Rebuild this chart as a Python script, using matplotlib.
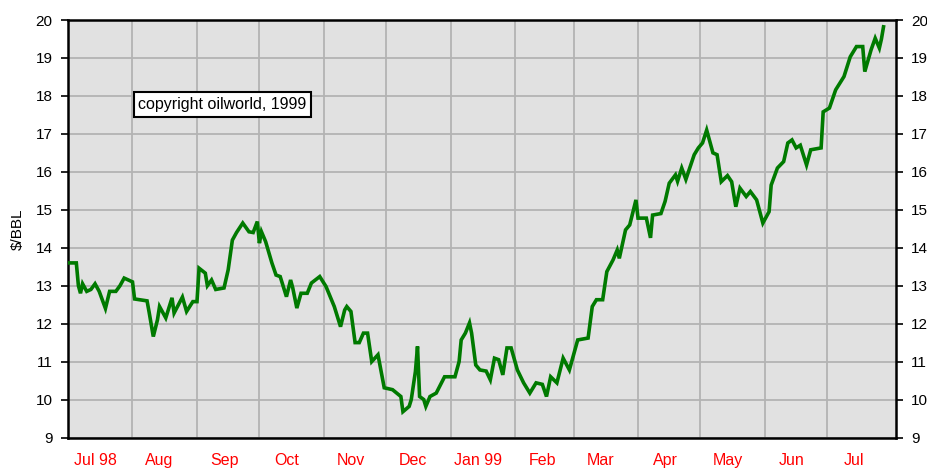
import matplotlib
matplotlib.use('Agg')
import matplotlib.pyplot as plt

plt.rcParams['font.family'] = ['Liberation Sans', 'DejaVu Sans']

# days counted from 1 Jul 1998, price in $/BBL
days = [0, 4, 5, 6, 7, 9, 11, 13, 15, 18, 20, 23, 25, 27, 31, 32, 38, 39, 41, 43,
        44, 47, 50, 51, 55, 57, 60, 62, 63, 66, 67, 69, 71, 75, 77, 79, 81, 84,
        87, 89, 91, 92, 93, 95, 98, 100, 102, 105, 107, 108, 110, 112, 115, 117,
        121, 124, 128, 131, 133, 134, 136, 138, 140, 142, 144, 146, 149, 152, 156,
        160, 161, 164, 165, 167, 168, 169, 171, 172, 174, 177, 181, 186, 188, 189,
        191, 193, 194, 196, 198, 201, 203, 205, 207, 209, 211, 213, 216, 219, 222,
        225, 228, 230, 232, 235, 238, 241, 245, 250, 252, 254, 257, 259, 262, 264,
        265, 268, 270, 273, 274, 278, 280, 281, 285, 287, 289, 292, 293, 295, 297,
        301, 303, 305, 307, 310, 312, 314, 317, 319, 321, 323, 326, 328, 331, 334,
        337, 338, 341, 344, 346, 348, 350, 352, 355, 357, 362, 363, 366, 369, 373,
        376, 379, 382, 383, 386, 388, 390, 391, 392]
price = [13.60, 13.60, 13.00, 12.80, 13.05, 12.85, 12.90, 13.05, 12.85, 12.40,
         12.85, 12.85, 13.00, 13.20, 13.10, 12.65, 12.60, 12.30, 11.66, 12.10,
         12.45, 12.15, 12.68, 12.28, 12.70, 12.32, 12.58, 12.58, 13.46, 13.33,
         13.00, 13.15, 12.90, 12.94, 13.42, 14.20, 14.40, 14.65, 14.42, 14.40,
         14.69, 14.12, 14.42, 14.16, 13.60, 13.28, 13.24, 12.71, 13.15, 12.95,
         12.41, 12.80, 12.80, 13.07, 13.24, 12.98, 12.45, 11.92, 12.36, 12.45,
         12.32, 11.50, 11.50, 11.75, 11.75, 11.00, 11.18, 10.31, 10.26, 10.08,
         9.68, 9.82, 10.00, 10.74, 11.40, 10.08, 10.00, 9.82, 10.08, 10.17,
         10.60, 10.60, 11.00, 11.57, 11.75, 12.02, 11.75, 10.91, 10.78, 10.75,
         10.52, 11.09, 11.05, 10.65, 11.36, 11.36, 10.78, 10.44, 10.17, 10.44,
         10.40, 10.08, 10.60, 10.44, 11.09, 10.78, 11.57, 11.62, 12.45, 12.63,
         12.63, 13.37, 13.68, 13.94, 13.72, 14.47, 14.60, 15.26, 14.78, 14.78,
         14.26, 14.86, 14.90, 15.22, 15.70, 15.92, 15.75, 16.10, 15.80, 16.45,
         16.63, 16.76, 17.10, 16.50, 16.45, 15.74, 15.90, 15.74, 15.08, 15.57,
         15.35, 15.48, 15.26, 14.65, 14.95, 15.65, 16.10, 16.27, 16.76, 16.84,
         16.63, 16.70, 16.18, 16.58, 16.63, 17.58, 17.68, 18.16, 18.51, 19.03,
         19.30, 19.30, 18.64, 19.21, 19.52, 19.26, 19.50, 19.82]

month_starts = [0, 31, 62, 92, 123, 153, 184, 215, 243, 274, 304, 335, 365]
month_labels = ['Jul 98', 'Aug', 'Sep', 'Oct', 'Nov', 'Dec', 'Jan 99', 'Feb',
                'Mar', 'Apr', 'May', 'Jun', 'Jul']


def main():
    fig = plt.figure(figsize=(9.28, 4.68), dpi=100)
    ax = fig.add_axes([68 / 928, 1 - 437.5 / 468, 828 / 928, 417.5 / 468])

    ax.set_facecolor('#e1e1e1')
    ax.plot(days, price, color='#007a00', lw=2.6, solid_joinstyle='miter',
            zorder=3)

    ax.set_xlim(0, 398)
    ax.set_ylim(9, 20)
    ax.set_yticks(range(9, 21))

    # month boundaries as grid lines, labels set mid-month
    ax.set_xticks(month_starts[1:])
    ax.set_xticklabels([])
    ax.set_xticks([m + 13 for m in month_starts], minor=True)
    ax.set_xticklabels(month_labels, minor=True, color='#ff0000', fontsize=11.5)
    ax.tick_params(axis='x', which='major', length=0, top=True, bottom=False)
    ax.tick_params(axis='x', which='minor', length=0, pad=11)
    ax.tick_params(axis='y', which='major', length=5, width=1.2, labelsize=11,
                   right=True, labelright=True, direction='out', pad=6)

    ax.grid(True, which='major', color='#b3b3b3', lw=1.3)
    for s in ax.spines.values():
        s.set_color('black')
        s.set_linewidth(1.8)

    ax.set_ylabel('$/BBL', fontsize=11, labelpad=8)

    ax.text(0.085, 0.797, 'copyright oilworld, 1999', transform=ax.transAxes,
            fontsize=11.5, va='center', ha='left', zorder=4,
            bbox=dict(boxstyle='square,pad=0.3', fc='white', ec='black', lw=1.5))

    fig.savefig('out.png', dpi=100)


if __name__ == '__main__':
    main()
